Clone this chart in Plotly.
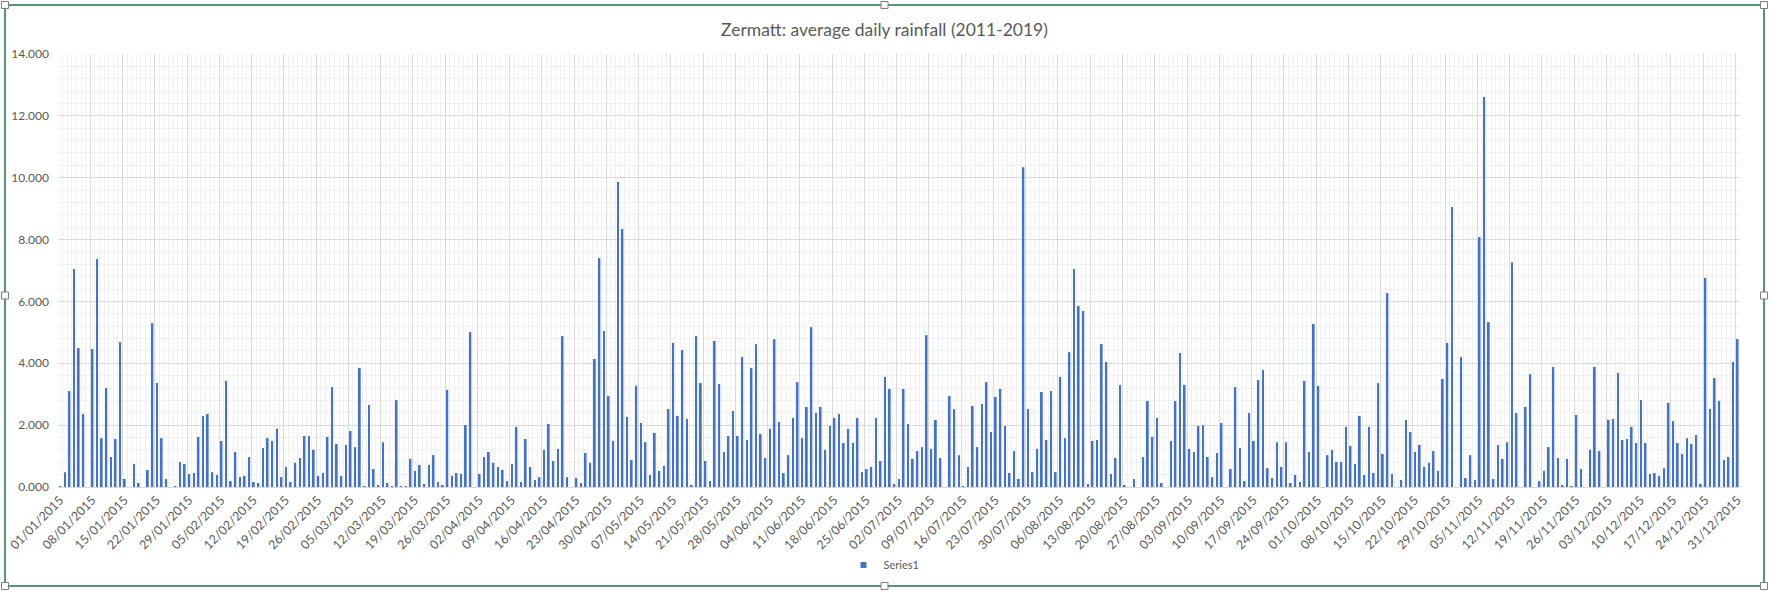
import datetime as dt
import plotly.graph_objects as go

# ---------------- data ----------------
start = dt.date(2015, 1, 1)
days = [start + dt.timedelta(days=i) for i in range(365)]
day_labels = [d.strftime("%d/%m/%Y") for d in days]

rain_jan_feb = [0.03, 0.48, 3.10, 7.05, 4.49, 2.36, 0, 4.46, 7.37, 1.58, 3.20, 0.97, 1.55, 4.69, 0.26, 0,
                0.74, 0.13, 0, 0.55, 5.30, 3.36, 1.58, 0.26, 0, 0.03, 0.81, 0.74, 0.42, 0.45, 1.62, 2.30,
                2.36, 0.48, 0.39, 1.49]
rain_b = [3.43, 0.19, 1.13, 0.32, 0.36, 0.97, 0.16, 0.13, 1.26, 1.58, 1.49, 1.88, 0.32, 0.65, 0.16, 0.78,
          0.94, 1.65, 1.65, 1.20, 0.36, 0.45, 1.62, 3.23, 1.39, 0.36, 1.36, 1.81, 1.29, 3.85, 0.03, 2.65,
          0.58, 0.06, 1.45, 0.13, 0.03]
rain_c = [2.81, 0.03, 0.03, 0.91, 0.52, 0.71, 0.10, 0.71, 1.03, 0.16, 0.06, 3.14, 0.36, 0.45, 0.42, 2.00,
          5.01, 0, 0.42, 0.97, 1.13, 0.78, 0.65, 0.55, 0.19, 0.74, 1.94, 0.16, 1.55, 0.65, 0.23, 0.32,
          1.20, 2.04, 0.84, 1.23, 4.88]
rain_d = [0.32, 0, 0.29, 0.13, 1.10, 0.78, 4.14, 7.40, 5.04, 2.94, 1.49, 9.86, 8.34, 2.26, 0.87, 3.27,
          2.07, 1.45, 0.39, 1.75, 0.52, 0.68, 2.52, 4.66, 2.30, 4.43, 2.20, 0.06, 4.88, 3.36, 0.84, 0.19,
          4.72, 3.33, 1.13, 1.65, 2.46]
rain_e = [1.65, 4.20, 1.52, 3.85, 4.62, 1.71, 0.94, 1.88, 4.78, 2.10, 0.45, 1.03, 2.23, 3.39, 1.58, 2.59,
          5.17, 2.39, 2.59, 1.20, 1.97, 2.23, 2.36, 1.42, 1.88, 1.42, 2.23, 0.48, 0.58, 0.65, 2.23, 0.84,
          3.56, 3.17, 0.10, 0.26, 3.17]
rain_f = [2.04, 0.91, 1.16, 1.29, 4.91, 1.23, 2.17, 0.94, 0, 2.94, 2.52, 1.03, 0.03, 0.65, 2.62, 1.29,
          2.68, 3.39, 1.78, 2.91, 3.17, 1.97, 0.45, 1.16, 0.26, 10.34, 2.52, 0.48, 1.23, 3.07, 1.52, 3.10,
          0.48, 3.56, 1.58, 4.36, 7.05]
rain_g = [5.85, 5.69, 0.10, 1.49, 1.52, 4.62, 4.04, 0.42, 0.94, 3.30, 0.06, 0, 0.26, 0, 0.97, 2.78,
          1.62, 2.23, 0.13, 0, 1.49, 2.78, 4.33, 3.30, 1.23, 1.13, 1.97, 2.00, 0.97, 0.32, 1.10, 2.07,
          0, 0.58, 3.23, 1.26, 0.19]
rain_h = [2.39, 1.49, 3.46, 3.78, 0.61, 0.29, 1.45, 0.65, 1.45, 0.13, 0.39, 0.16, 3.43, 1.13, 5.27, 3.27,
          0, 1.03, 1.20, 0.81, 0.81, 1.94, 1.33, 0.74, 2.30, 0.39, 1.94, 0.45, 3.36, 1.07, 6.27, 0.42,
          0, 0.23, 2.17, 1.78, 1.13]
rain_i = [1.36, 0.65, 0.78, 1.16, 0.52, 3.49, 4.66, 9.05, 0, 4.20, 0.29, 1.03, 0.23, 8.08, 12.61, 5.33,
          0.26, 1.36, 0.91, 1.45, 7.27, 2.39, 0, 2.59, 3.65, 0, 0.19, 0.52, 1.29, 3.88, 0.94, 0.06,
          0.91, 0.03, 2.33, 0.58]
rain_j = [0, 1.20, 3.88, 1.16, 0, 2.17, 2.20, 3.69, 1.52, 1.55, 1.94, 1.42, 2.81, 1.42, 0.42, 0.45,
          0.36, 0.61, 2.72, 2.13, 1.42, 1.07, 1.58, 1.39, 1.68, 0.10, 6.76, 2.52, 3.52, 2.78, 0.87, 0.97,
          4.04, 4.78]

rainfall = rain_jan_feb + rain_b + rain_c + rain_d + rain_e + rain_f + rain_g + rain_h + rain_i + rain_j
rainfall = (rainfall + [0] * 365)[:365]

label_every = 7
tick_idx = list(range(0, 365, label_every))
tick_text = [day_labels[i] for i in tick_idx]

# ---------------- figure ----------------
W, H = 1771, 593
L, R, T, B = 58, 1740, 54, 487  # plot area in px
GRAY = "#595959"
BLUE = "#4472C4"
FONT = "Lato"


def px2paper(x, y):
    return (x - L) / (R - L), (B - y) / (B - T)


fig = go.Figure()
fig.add_trace(go.Bar(
    x=list(range(365)), y=rainfall, name="Series1",
    marker=dict(color=BLUE, line=dict(width=0)),
    width=0.38, showlegend=False,
    customdata=day_labels, hovertemplate="%{customdata}: %{y:.3f}<extra></extra>",
))
# legend entry with a small square key, as in the original
fig.add_trace(go.Scatter(
    x=[None], y=[None], mode="markers", name="Series1",
    marker=dict(symbol="square", size=6, color=BLUE), showlegend=True,
))

fig.update_layout(
    width=W, height=H,
    margin=dict(l=L, r=W - R, t=T, b=H - B, autoexpand=False),
    paper_bgcolor="white", plot_bgcolor="white",
    title=dict(text="Zermatt: average daily rainfall (2011-2019)", x=884.5 / W, xref="container",
               xanchor="center", y=1 - 30 / H, yanchor="middle", yref="container",
               font=dict(family=FONT, size=17.5, color=GRAY)),
    showlegend=True,
    legend=dict(orientation="h", x=(884 - L) / (R - L), xanchor="center", y=(B - 565) / (B - T),
                yanchor="middle", font=dict(family=FONT, size=11, color=GRAY),
                itemwidth=30, tracegroupgap=0, bgcolor="rgba(0,0,0,0)"),
    font=dict(family=FONT, color=GRAY),
)

fig.update_xaxes(
    range=[-0.5, 364.5],
    tickmode="array", tickvals=[i - 0.5 for i in tick_idx], ticktext=tick_text,
    ticklabelshift=2, tickangle=-45,
    tickfont=dict(family=FONT, size=12.5, color=GRAY),
    showgrid=True, gridcolor="#d9d9d9", gridwidth=1,
    minor=dict(tickmode="linear", tick0=-0.5, dtick=1, showgrid=True, gridcolor="#f0f0f0", gridwidth=1),
    showline=True, linecolor="#d9d9d9", ticks="", zeroline=False,
)
fig.update_yaxes(
    range=[0, 14], dtick=2, tick0=0, tickformat=".3f",
    tickfont=dict(family=FONT, size=12, color=GRAY),
    showgrid=True, gridcolor="#d9d9d9", gridwidth=1,
    minor=dict(dtick=0.4, showgrid=True, gridcolor="#f0f0f0", gridwidth=1),
    showline=False, ticks="", zeroline=False, ticklabelstandoff=8,
)

# chart-area border (selected chart) and handles
x0, y0 = px2paper(5, 5)
x1, y1 = px2paper(1764, 586)
fig.add_shape(type="rect", xref="paper", yref="paper", x0=x0, y0=y1, x1=x1, y1=y0,
              line=dict(color="#217346", width=1.5), fillcolor="rgba(0,0,0,0)", layer="above")
for hx in (5, 884.5, 1764):
    for hy in (5, 295.5, 586):
        if hx == 884.5 and hy == 295.5:
            continue
        cx, cy = px2paper(hx, hy)
        dx, dy = 3.5 / (R - L), 3.5 / (B - T)
        fig.add_shape(type="rect", xref="paper", yref="paper", x0=cx - dx, x1=cx + dx, y0=cy - dy, y1=cy + dy,
                      line=dict(color="#7f7f7f", width=1), fillcolor="white", layer="above")

fig.write_html(
    "out.html",
    config={"displayModeBar": False},
    post_script="document.body.style.margin='0';document.body.style.overflow='hidden';",
)
